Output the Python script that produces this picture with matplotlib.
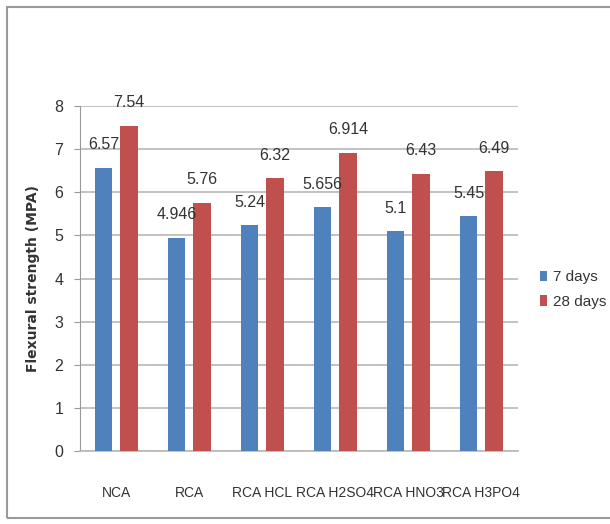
import matplotlib
matplotlib.use("Agg")
import matplotlib.pyplot as plt
import numpy as np
from matplotlib.patches import Rectangle

# chart data
categories = ["NCA", "RCA", "RCA HCL", "RCA H2SO4", "RCA HNO3", "RCA H3PO4"]
days_7 = [6.57, 4.946, 5.24, 5.656, 5.1, 5.45]
days_28 = [7.54, 5.76, 6.32, 6.914, 6.43, 6.49]
label_7 = ["6.57", "4.946", "5.24", "5.656", "5.1", "5.45"]
label_28 = ["7.54", "5.76", "6.32", "6.914", "6.43", "6.49"]

plt.rcParams["font.family"] = ["Liberation Sans", "DejaVu Sans"]

fig = plt.figure(figsize=(6.10, 5.24), dpi=100)
ax = fig.add_axes([0.131, 0.139, 0.718, 0.659])

# outer frame like the pasted excel chart
fig.patches.append(Rectangle((7 / 610, 0.012), 1.0, 1 - 7 / 524 - 0.012,
                             transform=fig.transFigure, fill=False,
                             edgecolor="#9a9a9a", linewidth=1.5))

x = np.arange(len(categories))
w = 0.24
off = 0.175
b1 = ax.bar(x - off, days_7, w, color="#4F81BD", label="7 days", zorder=3)
b2 = ax.bar(x + off, days_28, w, color="#C0504D", label="28 days", zorder=3)

for bars, labels in [(b1, label_7), (b2, label_28)]:
    for bar, txt in zip(bars, labels):
        ax.annotate(txt, (bar.get_x() + bar.get_width() / 2, bar.get_height()),
                    xytext=(0, 16.5), textcoords="offset points",
                    ha="center", va="center", fontsize=11.5, color="#333333")

ax.set_xlim(-0.5, len(categories) - 0.5)
ax.set_ylim(0, 8)
ax.set_yticks(range(0, 9))
ax.yaxis.grid(True, color="#b8b8b8", linewidth=1.2, zorder=0)
ax.set_xticks(x)
ax.set_xticklabels(categories, fontsize=10, color="#333333")
ax.tick_params(axis="x", length=0, pad=25)
ax.tick_params(axis="y", length=4, color="#999999", labelsize=11.5,
               labelcolor="#333333", pad=8)

for s in ["top", "right"]:
    ax.spines[s].set_visible(False)
ax.spines["left"].set_color("#999999")
ax.spines["bottom"].set_color("#b8b8b8")
ax.spines["bottom"].set_linewidth(1.2)

ax.set_ylabel("Flexural strength (MPA)", fontsize=10, fontweight="bold",
              family=["DejaVu Sans"], color="#333333", labelpad=10)

fig.legend(loc="center left", bbox_to_anchor=(0.862, 0.447), frameon=False,
           fontsize=11, handlelength=0.5, handleheight=0.7, handletextpad=0.4,
           labelspacing=0.7, labelcolor="#333333")

fig.savefig("out.png", dpi=100)
